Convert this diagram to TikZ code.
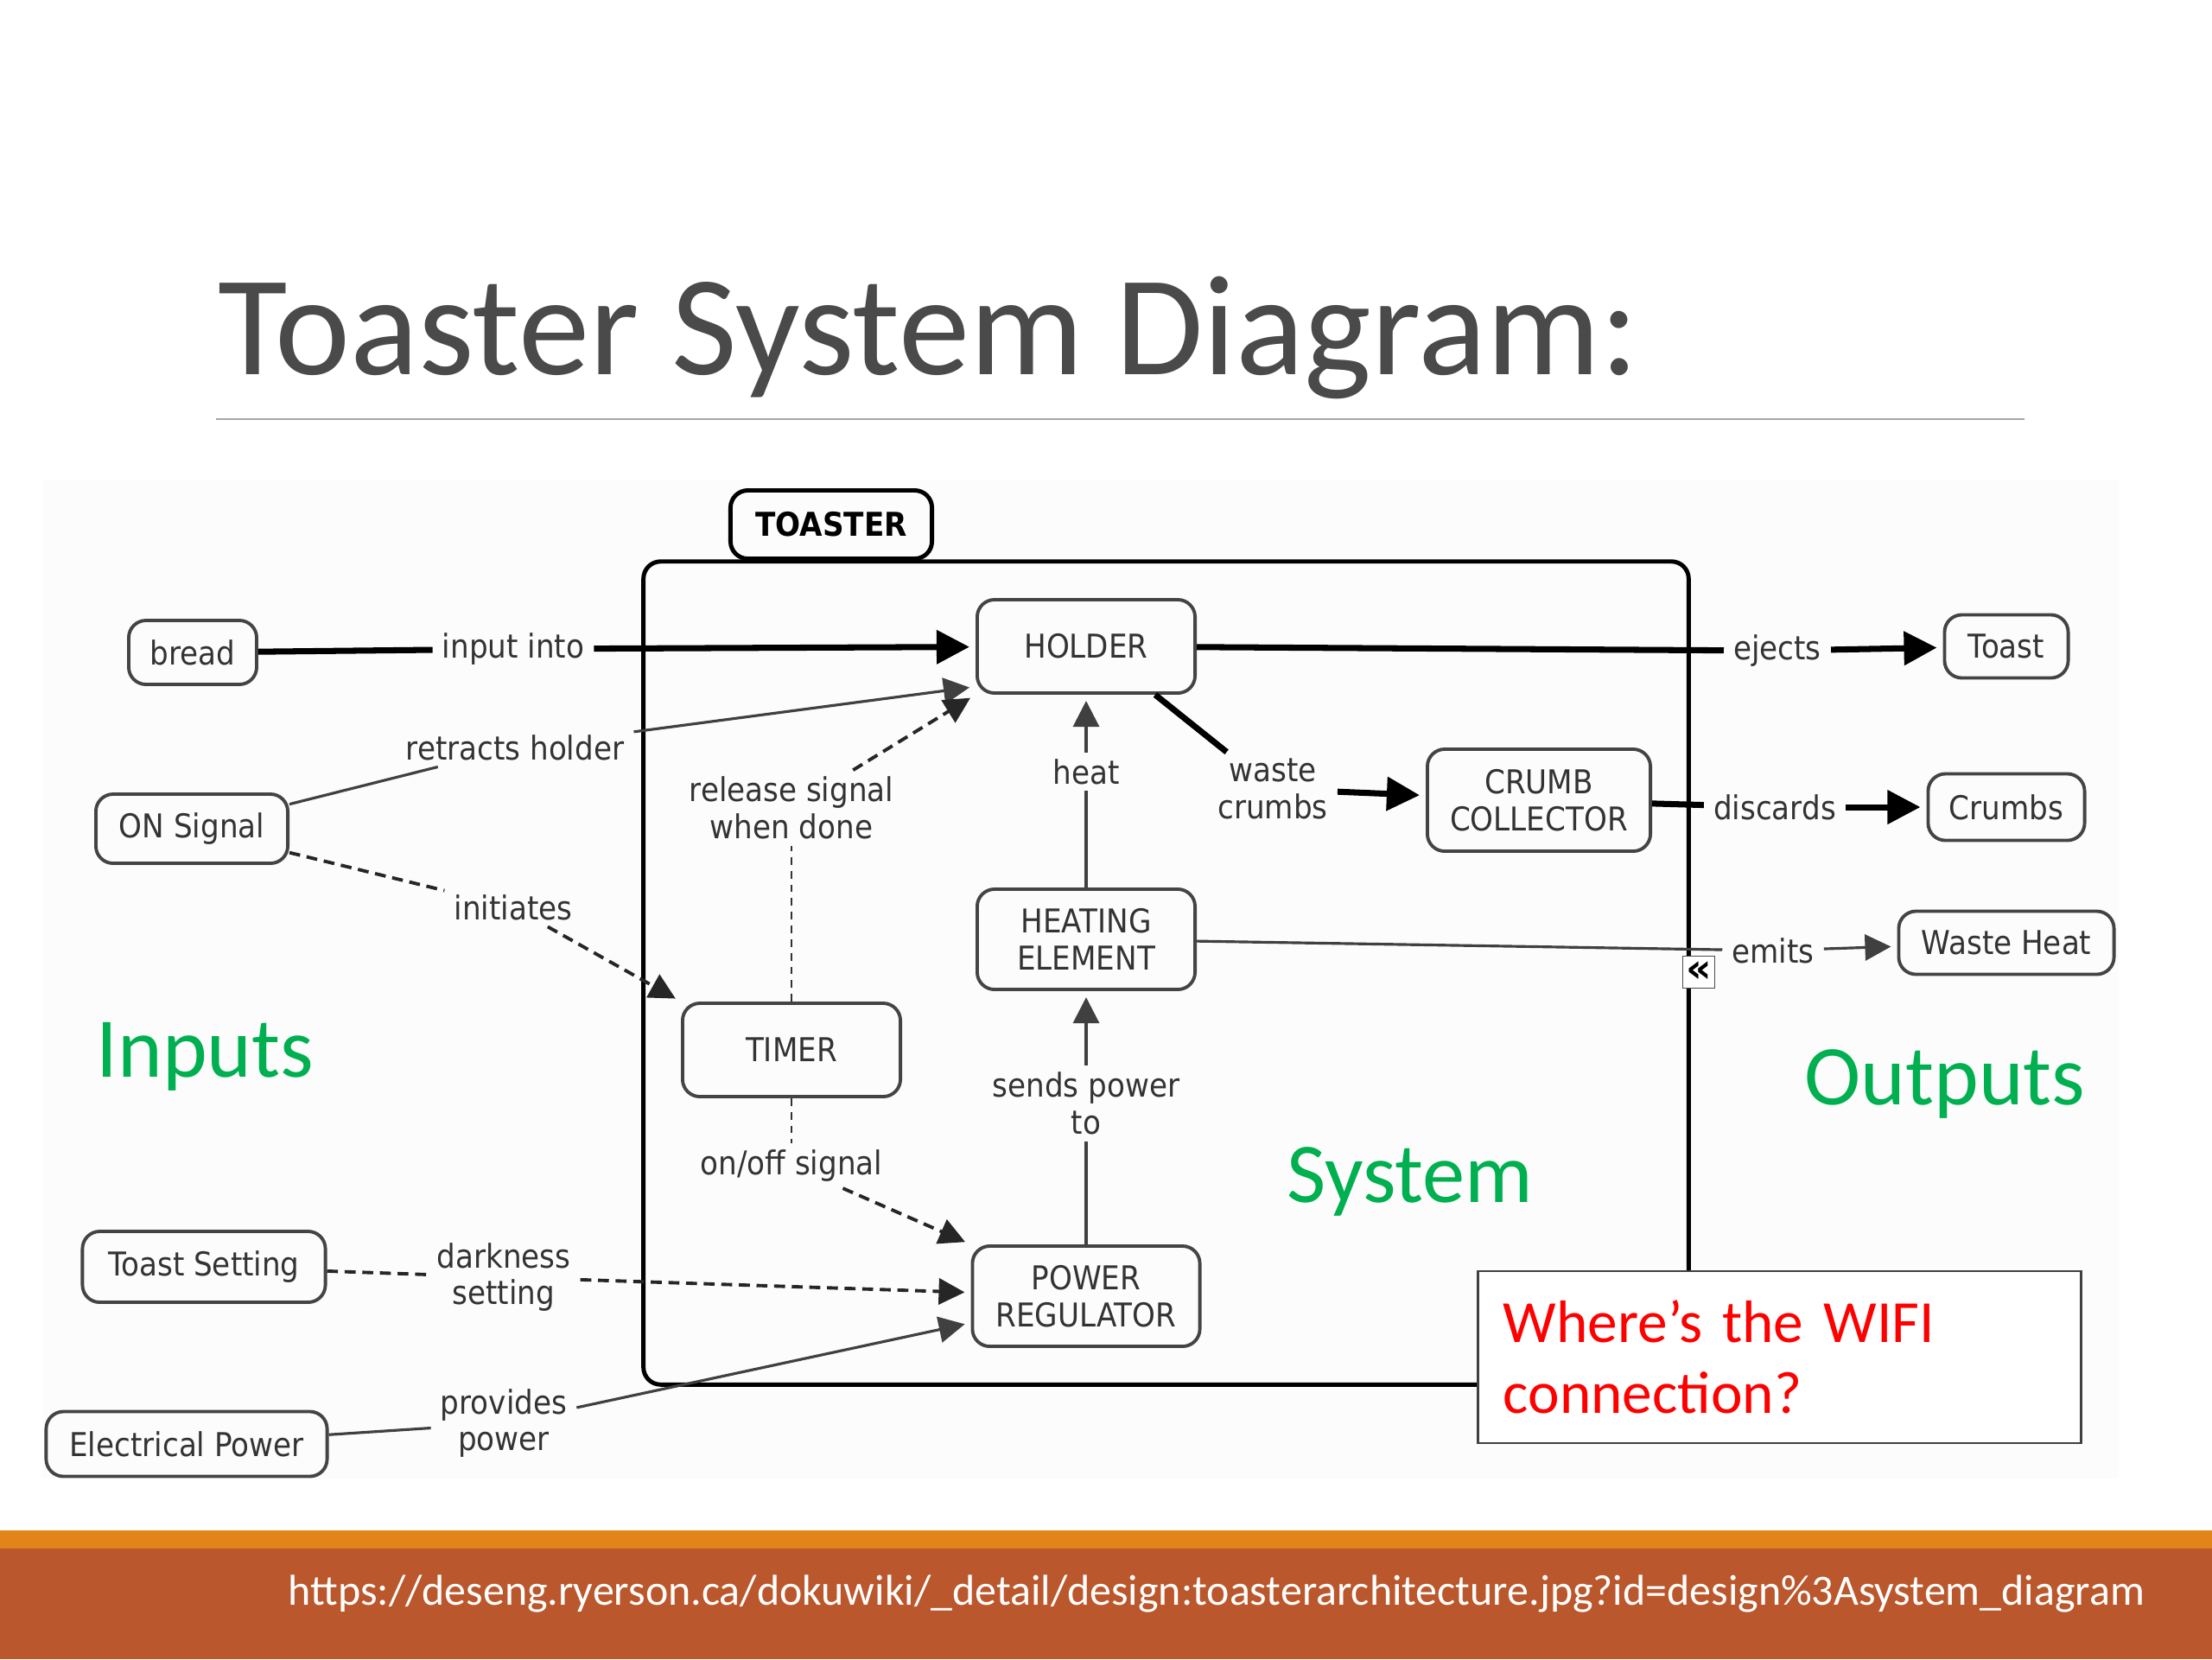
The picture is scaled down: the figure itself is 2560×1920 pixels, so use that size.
\documentclass[tikz,border=0pt]{standalone}
\usepackage{fontspec}
\setmainfont{Carlito}
\newfontfamily\cmapfont[FakeStretch=0.9]{DejaVu Sans}
\newfontfamily\symbfont{DejaVu Sans}
\usetikzlibrary{arrows.meta}
\definecolor{diagbg}{HTML}{FCFCFC}
\definecolor{nodeline}{HTML}{444444}
\definecolor{txtgray}{HTML}{333333}
\definecolor{titlegray}{HTML}{4A4A4A}
\definecolor{rulegray}{HTML}{A6A6A6}
\definecolor{slidegreen}{HTML}{00B050}
\definecolor{bandorange}{HTML}{E3841A}
\definecolor{bandbrown}{HTML}{BA572C}
\newcommand\cmapsize{\fontsize{10.8pt}{12.2pt}\selectfont}

\begin{document}
\begin{tikzpicture}[x=0.01cm,y=-0.01cm,
  concept/.style={draw=nodeline, line width=1.1pt, rounded corners=0.2cm, fill=diagbg,
    font=\cmapfont\cmapsize, text=txtgray, align=center, inner sep=0pt},
  lbl/.style={fill=diagbg, font=\cmapfont\cmapsize, text=txtgray, align=center,
    inner xsep=3pt, inner ysep=2pt},
  heavy/.style={line width=2pt, black},
  light/.style={line width=0.9pt, black!75},
  dashy/.style={line width=1.1pt, black!85, dash pattern=on 3.6pt off 2.2pt},
  faint/.style={line width=0.5pt, black!80, dash pattern=on 2.5pt off 2pt},
  bigtip/.style={-{Triangle[length=0.38cm,width=0.38cm]}, shorten >=2pt},
  smalltip/.style={-{Triangle[length=0.30cm,width=0.30cm]}, shorten >=2pt},
  zone/.style={anchor=base west, inner sep=0pt, text=slidegreen, font=\fontsize{28pt}{30pt}\selectfont}
]
\useasboundingbox (0,0) rectangle (2560,1920);
\fill[white] (0,0) rectangle (2560,1920);
\fill[diagbg] (49,555) rectangle (2452,1711);

% title and rule
\node[anchor=base west, inner sep=0pt, text=titlegray, font=\fontsize{46.9pt}{50pt}\selectfont] (title) at (252,433) {Toaster System Diagram:};
\draw[rulegray, line width=0.5pt] (250,485) -- (2343,485);

% footer band
\fill[bandorange] (0,1771) rectangle (2560,1792);
\fill[bandbrown] (0,1792) rectangle (2560,1920);
\node[anchor=base west, inner sep=0pt, text=white, font=\fontsize{14.2pt}{16pt}\selectfont] (source) at (333,1857) {https://deseng.ryerson.ca/dokuwiki/\_detail/design:toasterarchitecture.jpg?id=design\%3Asystem\_diagram};

% system container
\node[draw=black, line width=1.4pt, rounded corners=0.2cm, minimum width=12.09cm, minimum height=9.52cm, inner sep=0pt] (toaster) at (1349.5,1126) {};
\node[draw=black, line width=1.4pt, rounded corners=0.2cm, fill=diagbg, minimum width=2.33cm, minimum height=0.79cm, inner sep=0pt, font=\cmapfont\cmapsize\bfseries, text=black] (toasterlabel) at (962,607) {TOASTER};

% concepts
\node[concept, minimum width=1.48cm, minimum height=0.74cm] (bread) at (223,755) {bread};
\node[concept, minimum width=2.52cm, minimum height=1.08cm] (holder) at (1257,748) {HOLDER};
\node[concept, minimum width=1.43cm, minimum height=0.73cm] (toast) at (2322,748) {Toast};
\node[concept, minimum width=2.22cm, minimum height=0.80cm] (onsig) at (222,959) {ON Signal};
\node[concept, minimum width=2.58cm, minimum height=1.18cm] (crumbcol) at (1781,926) {CRUMB\\COLLECTOR};
\node[concept, minimum width=1.81cm, minimum height=0.77cm] (crumbs) at (2322,934) {Crumbs};
\node[concept, minimum width=2.52cm, minimum height=1.16cm] (heater) at (1257,1087) {HEATING\\ELEMENT};
\node[concept, minimum width=2.49cm, minimum height=0.73cm] (wasteheat) at (2322,1091) {Waste Heat};
\node[concept, minimum width=2.52cm, minimum height=1.08cm] (timer) at (916,1215) {TIMER};
\node[concept, minimum width=2.63cm, minimum height=1.16cm] (powreg) at (1257,1500) {POWER\\REGULATOR};
\node[concept, minimum width=2.81cm, minimum height=0.82cm] (tsetting) at (236,1466) {Toast Setting};
\node[concept, minimum width=3.25cm, minimum height=0.75cm] (epower) at (216,1671) {Electrical Power};

% linking phrases
\node[lbl] (linput) at (594,751) {input into};
\node[lbl] (lretract) at (596,865) {retracts holder};
\node[lbl] (linit) at (594,1050) {initiates};
\node[lbl] (lrelease) at (916,935) {release signal\\when done};
\node[lbl] (lonoff) at (916,1349) {on/off signal};
\node[lbl] (ldark) at (583,1478) {darkness\\setting};
\node[lbl] (lprov) at (583,1647) {provides\\power};
\node[lbl] (lsends) at (1257,1277) {sends power\\to};
\node[lbl] (lheat) at (1257,893) {heat};
\node[lbl] (lwaste) at (1473,913) {waste\\crumbs};
\node[lbl] (leject) at (2057,753) {ejects};
\node[lbl] (ldiscard) at (2054,934) {discards};
\node[lbl] (lemit) at (2052,1100) {emits};

% connectors
\draw[heavy] (bread) -- (linput);
\draw[heavy, bigtip] (linput) -- (holder);
\draw[light] (onsig) -- (lretract);
\draw[light, smalltip] (lretract) -- (holder.200);
\draw[dashy] (onsig) -- (linit);
\draw[dashy, smalltip] (linit) -- (timer.north west);
\draw[faint] (timer) -- (lrelease);
\draw[dashy, smalltip] (lrelease) -- (holder.south west);
\draw[faint] (timer) -- (lonoff);
\draw[dashy, smalltip] (lonoff) -- (powreg.north west);
\draw[dashy] (tsetting) -- (ldark);
\draw[dashy, smalltip] (ldark) -- (powreg);
\draw[light] (epower) -- (lprov);
\draw[light, smalltip] (lprov) -- (powreg.193);
\draw[light] (powreg) -- (lsends);
\draw[light, smalltip] (lsends) -- (heater);
\draw[light] (heater) -- (lheat);
\draw[light, smalltip] (lheat) -- (holder);
\draw[heavy] (holder.-35) -- (lwaste);
\draw[heavy, bigtip] (lwaste) -- (crumbcol);
\draw[heavy] (holder) -- (leject);
\draw[heavy, bigtip] (leject) -- (toast);
\draw[heavy] (crumbcol) -- (ldiscard);
\draw[heavy, bigtip] (ldiscard) -- (crumbs);
\draw[light] (heater) -- (lemit);
\draw[light, smalltip] (lemit) -- (wasteheat);

% collapse icon on container edge
\node[draw=black!70, line width=0.5pt, fill=white, minimum size=0.37cm, inner sep=0pt, font=\symbfont\bfseries\fontsize{13pt}{13pt}\selectfont] (collapse) at (1966,1125) {«};

% zone captions
\node[zone] (inputs) at (111,1246) {Inputs};
\node[zone] (outputs) at (2088,1278) {Outputs};
\node[zone] (system) at (1489,1391) {System};

% question box
\node[draw=black!75, line width=0.8pt, fill=white, rectangle, minimum width=6.97cm, minimum height=1.99cm, text width=6.39cm, inner xsep=0.29cm, inner ysep=0pt, align=left, text=red, font=\fontsize{19.7pt}{23.3pt}\selectfont] (wifi) at (2059.5,1570.5) {Where’s the WIFI\\connection?};
\end{tikzpicture}
\end{document}
